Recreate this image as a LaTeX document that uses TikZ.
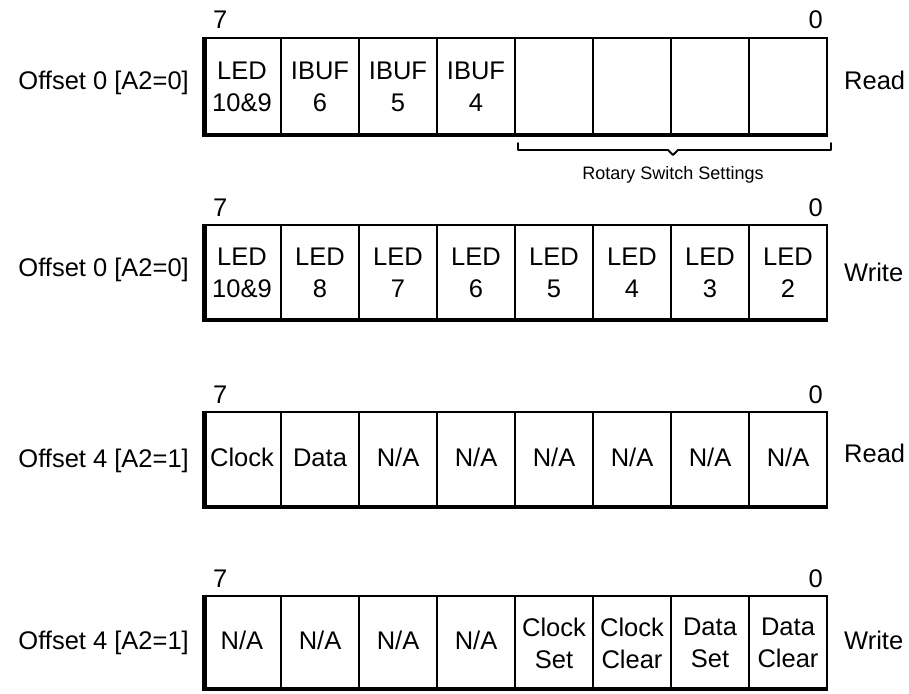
\documentclass[tikz,border=0pt]{standalone}
\usepackage{fontspec}
\setmainfont{Liberation Sans}
\tikzset{
  cellbox/.style={draw, line width=1.8pt, inner sep=0pt, outer sep=0pt, minimum width=78pt,
    align=center, font=\fontsize{25.5}{32}\selectfont},
  sidelbl/.style={inner sep=0pt, font=\fontsize{25.5}{30}\selectfont},
  bitlbl/.style={inner sep=0pt, font=\fontsize{25.5}{30}\selectfont},
  smalllbl/.style={inner sep=0pt, font=\fontsize{18}{21}\selectfont},
  heavy/.style={line width=4pt},
  rightedge/.style={line width=2.6pt},
  bracepath/.style={line width=1.8pt, line join=round, line cap=round}
}
% #1 name, #2 top, #3 bottom, #4 left label, #5 left baseline, #6 right label, #7 right baseline, #8 cells
\newcommand\regrow[8]{%
  \foreach \t [count=\i from 0] in {#8} {
    \node[cellbox, minimum height={(#3-#2)*1pt}] (#1c\i) at ({203+78*\i+39},{(#2+#3)/2}) {\t};
  }
  \draw[heavy] (204.5,#2-0.9) -- (204.5,#3);
  \draw[rightedge] (827,#2) -- (827,#3);
  \draw[heavy] (202.5,#3-1) -- (828.3,#3-1);
  \node[sidelbl, anchor=base east] (#1left) at (189,#5) {#4};
  \node[sidelbl, anchor=base west] (#1right) at (844,#7) {#6};
  \node[bitlbl, anchor=base west] (#1hi) at (213,#2-9) {7};
  \node[bitlbl, anchor=base east] (#1lo) at (823,#2-9) {0};
}
\begin{document}
\begin{tikzpicture}[x=1pt,y=-1pt]
\useasboundingbox (0,0) rectangle (909,693);
\regrow{ra}{38}{136}{Offset 0 [A2=0]}{89}{Read}{89}{{LED\\10\&9},{IBUF\\6},{IBUF\\5},{IBUF\\4},{},{},{},{}}
\regrow{rb}{225}{321}{Offset 0 [A2=0]}{276}{Write}{281}{{LED\\10\&9},{LED\\8},{LED\\7},{LED\\6},{LED\\5},{LED\\4},{LED\\3},{LED\\2}}
\regrow{rc}{412}{508}{Offset 4 [A2=1]}{467}{Read}{462}{{\strut Clock},{\strut Data},{\strut N/A},{\strut N/A},{\strut N/A},{\strut N/A},{\strut N/A},{\strut N/A}}
\regrow{rd}{596}{690}{Offset 4 [A2=1]}{649}{Write}{649}{{\strut N/A},{\strut N/A},{\strut N/A},{\strut N/A},{Clock\\Set},{Clock\\Clear},{Data\\Set},{Data\\Clear}}
% brace under rotary switch bits
\draw[bracepath] (518,143) -- (518,150) -- (668,150) -- (673,155) -- (678,150) -- (831,150) -- (831,143);
\node[smalllbl, anchor=base] (rotary) at (673,179) {Rotary Switch Settings};
\end{tikzpicture}
\end{document}
